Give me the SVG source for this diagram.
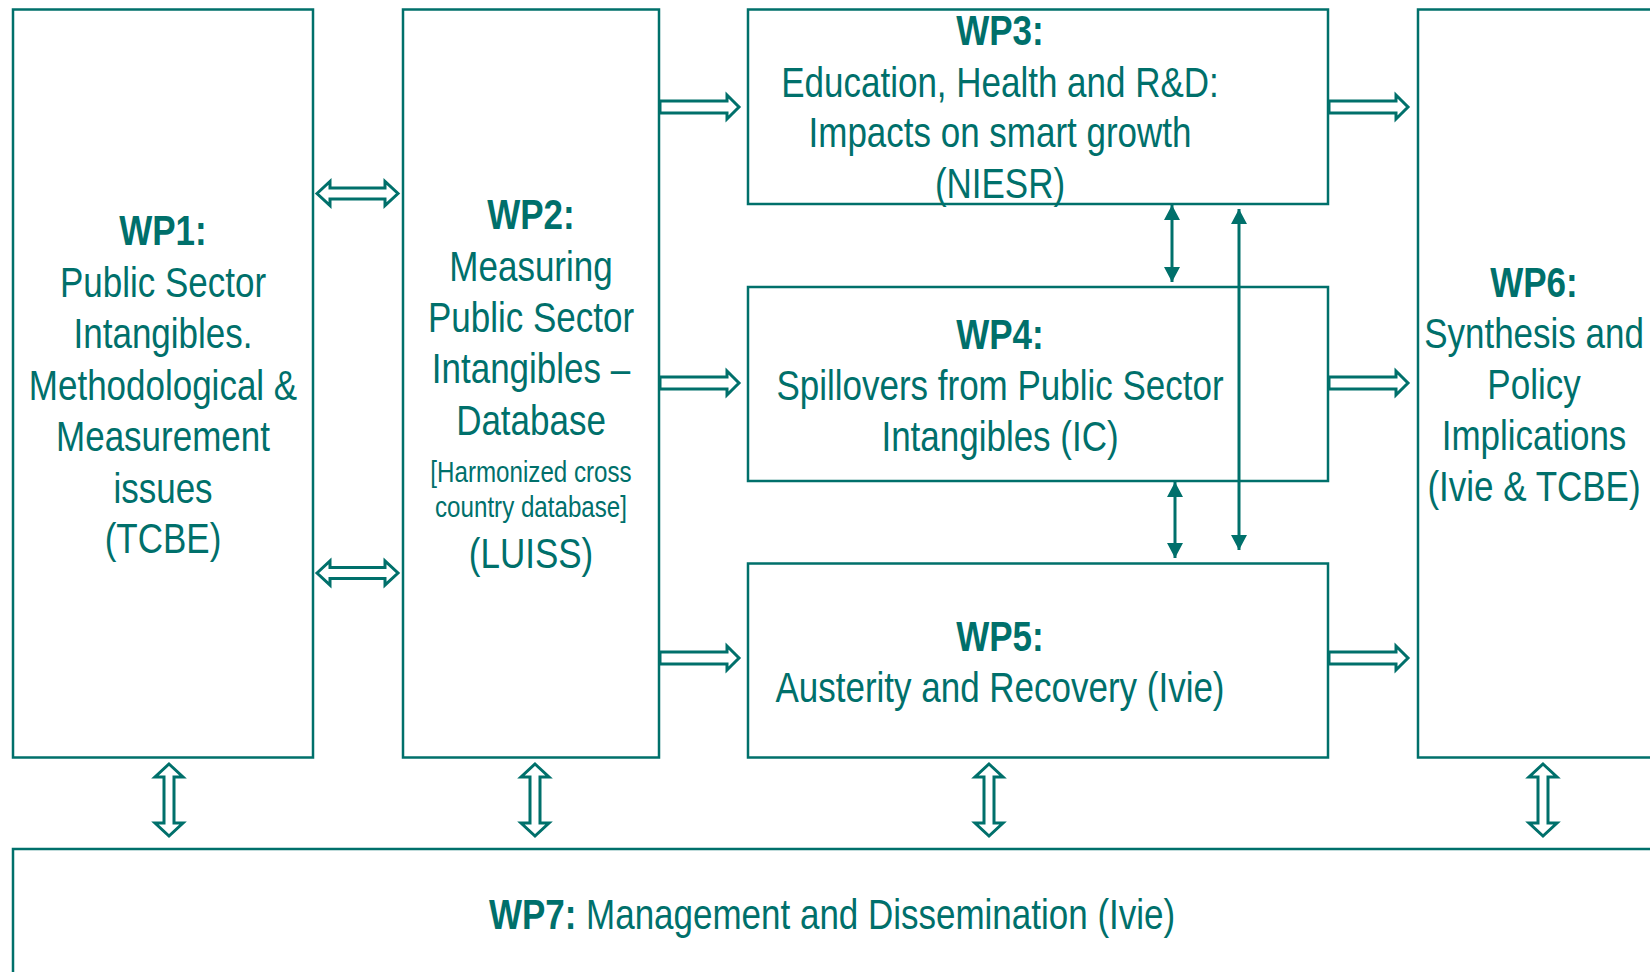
<svg xmlns="http://www.w3.org/2000/svg" width="1650" height="972" viewBox="0 0 1650 972">
  <defs>
    <style>
      .box { fill: #ffffff; stroke: #00706B; stroke-width: 2.5; }
      .hollow { fill: #ffffff; stroke: #00706B; stroke-width: 3; stroke-linejoin: miter; }
      .thin { stroke: #00706B; stroke-width: 3; fill: none; }
      text { font-family: "Liberation Sans", Arial, sans-serif; fill: #00706B; text-anchor: middle; }
      .t { font-size: 42px; }
      .b { font-size: 42px; font-weight: bold; }
      .s { font-size: 29px; }
    </style>
    <!-- hollow block arrows -->
    <path id="dblH" d="M-40.5,0 L-27.5,-12 L-27.5,-5.5 L27.5,-5.5 L27.5,-12 L40.5,0 L27.5,12 L27.5,5.5 L-27.5,5.5 L-27.5,12 Z"/>
    <path id="rightArr" d="M0,-6 L67,-6 L67,-12 L79,0 L67,12 L67,6 L0,6 Z"/>
    <path id="dblV" d="M0,-36 L14,-23 L5,-23 L5,23 L14,23 L0,36 L-14,23 L-5,23 L-5,-23 L-14,-23 Z"/>
    <marker id="tri" viewBox="0 0 15 16" refX="15" refY="8" markerWidth="15" markerHeight="16" markerUnits="userSpaceOnUse" orient="auto-start-reverse">
      <path d="M0,0 L15,8 L0,16 Z" fill="#00706B"/>
    </marker>
  </defs>

  <rect width="1650" height="972" fill="#ffffff"/>

  <!-- labels use a horizontally condensed sans (scaleX 0.833) -->
  <g id="wp1">
    <rect class="box" x="13" y="9.5" width="300" height="748"/>
    <g transform="translate(163,0) scale(0.833,1)">
      <text class="b" x="0" y="245">WP1:</text>
      <text class="t" x="0" y="297">Public Sector</text>
      <text class="t" x="0" y="348">Intangibles.</text>
      <text class="t" x="0" y="400">Methodological &amp;</text>
      <text class="t" x="0" y="451">Measurement</text>
      <text class="t" x="0" y="503">issues</text>
      <text class="t" x="0" y="553">(TCBE)</text>
    </g>
  </g>

  <g id="wp2">
    <rect class="box" x="403" y="9.5" width="256" height="748"/>
    <g transform="translate(531,0) scale(0.833,1)">
      <text class="b" x="0" y="229">WP2:</text>
      <text class="t" x="0" y="281">Measuring</text>
      <text class="t" x="0" y="332">Public Sector</text>
      <text class="t" x="0" y="383">Intangibles –</text>
      <text class="t" x="0" y="435">Database</text>
      <text class="s" x="0" y="482">[Harmonized cross</text>
      <text class="s" x="0" y="517">country database]</text>
      <text class="t" x="0" y="568">(LUISS)</text>
    </g>
  </g>

  <g id="wp3">
    <rect class="box" x="748" y="9.5" width="580" height="194.5"/>
    <g transform="translate(1000,0) scale(0.833,1)">
      <text class="b" x="0" y="45">WP3:</text>
      <text class="t" x="0" y="97">Education, Health and R&amp;D:</text>
      <text class="t" x="0" y="147">Impacts on smart growth</text>
      <text class="t" x="0" y="198">(NIESR)</text>
    </g>
  </g>

  <g id="wp4">
    <rect class="box" x="748" y="287" width="580" height="194"/>
    <g transform="translate(1000,0) scale(0.833,1)">
      <text class="b" x="0" y="349">WP4:</text>
      <text class="t" x="0" y="400">Spillovers from Public Sector</text>
      <text class="t" x="0" y="451">Intangibles (IC)</text>
    </g>
  </g>

  <g id="wp5">
    <rect class="box" x="748" y="563.5" width="580" height="194"/>
    <g transform="translate(1000,0) scale(0.833,1)">
      <text class="b" x="0" y="651">WP5:</text>
      <text class="t" x="0" y="702">Austerity and Recovery (Ivie)</text>
    </g>
  </g>

  <g id="wp6">
    <rect class="box" x="1418" y="9.5" width="260" height="748"/>
    <g transform="translate(1534,0) scale(0.833,1)">
      <text class="b" x="0" y="297">WP6:</text>
      <text class="t" x="0" y="348">Synthesis and</text>
      <text class="t" x="0" y="399">Policy</text>
      <text class="t" x="0" y="450">Implications</text>
      <text class="t" x="0" y="501">(Ivie &amp; TCBE)</text>
    </g>
  </g>

  <g id="wp7">
    <rect class="box" x="13" y="849" width="1680" height="160"/>
    <g transform="translate(832,0) scale(0.833,1)">
      <text class="t" x="0" y="929"><tspan font-weight="bold">WP7:</tspan> Management and Dissemination (Ivie)</text>
    </g>
  </g>

  <g id="connectors">
    <!-- WP1 <-> WP2 -->
    <use href="#dblH" class="hollow" x="357.5" y="193.5"/>
    <use href="#dblH" class="hollow" x="357.5" y="573"/>
    <!-- WP2 -> WP3/WP4/WP5 -->
    <use href="#rightArr" class="hollow" x="660" y="107"/>
    <use href="#rightArr" class="hollow" x="660" y="383"/>
    <use href="#rightArr" class="hollow" x="660" y="658"/>
    <!-- WP3/WP4/WP5 -> WP6 -->
    <use href="#rightArr" class="hollow" x="1329" y="107"/>
    <use href="#rightArr" class="hollow" x="1329" y="383"/>
    <use href="#rightArr" class="hollow" x="1329" y="658"/>
    <!-- links down to WP7 -->
    <use href="#dblV" class="hollow" x="169" y="800"/>
    <use href="#dblV" class="hollow" x="535" y="800"/>
    <use href="#dblV" class="hollow" x="989" y="800"/>
    <use href="#dblV" class="hollow" x="1543" y="800"/>
    <!-- thin two-way links between WP3, WP4, WP5 -->
    <line class="thin" x1="1172" y1="205" x2="1172" y2="282" marker-start="url(#tri)" marker-end="url(#tri)"/>
    <line class="thin" x1="1175" y1="482" x2="1175" y2="558" marker-start="url(#tri)" marker-end="url(#tri)"/>
    <line class="thin" x1="1239" y1="209" x2="1239" y2="550" marker-start="url(#tri)" marker-end="url(#tri)"/>
  </g>
</svg>
